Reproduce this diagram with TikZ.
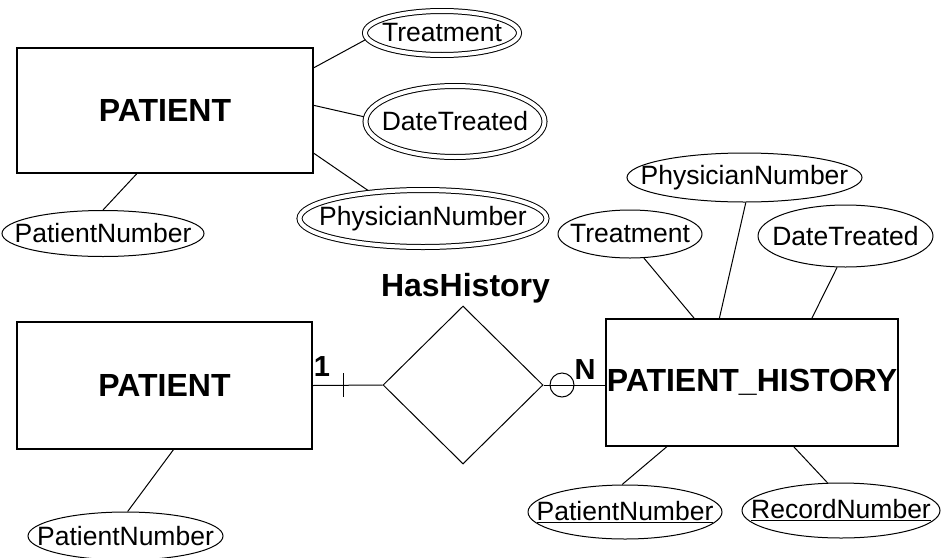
\documentclass[tikz,border=0pt]{standalone}
\usepackage{fontspec}
\setmainfont{Liberation Sans}
\usetikzlibrary{shapes.geometric}

\tikzstyle{entity} = [rectangle, draw=black, line width=1.2pt, inner sep=0pt, font=\fontsize{32}{38}\selectfont\bfseries]
% o texto fica numa caixa de largura zero para a elipse seguir minimum width
\tikzstyle{attr} = [ellipse, draw=black, line width=1pt, inner sep=0pt, font=\fontsize{26.5}{32}\selectfont,
  execute at begin node={\hbox to 0pt\bgroup\hss}, execute at end node={\hss\egroup}]
\tikzstyle{mattr} = [attr, double, double distance=4pt, outer sep=2.5pt]
\tikzstyle{rel} = [diamond, draw=black, line width=1pt, inner sep=0pt, minimum width=160pt, minimum height=158pt]
\tikzstyle{card} = [inner sep=0pt, font=\fontsize{29}{34}\selectfont\bfseries]
\tikzstyle{line} = [line width=1pt]

\begin{document}
\begin{tikzpicture}[x=1pt, y=-1pt]
\useasboundingbox (0,0) rectangle (941,557);

% entidade com atributos multivalorados
\node (patient) [entity, minimum width=296pt, minimum height=125pt] at (165,110.5) {PATIENT};
\node (ptreat) [mattr, minimum width=154pt, minimum height=44pt] at (442,33) {Treatment};
\node (pdate) [mattr, minimum width=179pt, minimum height=71pt] at (455,121.5) {DateTreated};
\node (pphys) [mattr, minimum width=247pt, minimum height=57pt] at (423,218.5) {PhysicianNumber};
\node (pnum) [attr, minimum width=202pt, minimum height=46pt] at (103,233.5) {PatientNumber};

\draw [line] (patient.16) -- (ptreat.185);
\draw [line] (patient.2) -- (pdate.177);
\draw [line] (patient.344) -- (pphys.153);
\draw [line] (patient.246) -- (pnum.90);

% entidades separadas e relacionamento
\node (patient2) [entity, minimum width=295pt, minimum height=127pt] at (164.5,385.5) {PATIENT};
\node (pnum2) [attr, minimum width=195pt, minimum height=48pt] at (125.5,536) {PatientNumber};
\node (has) [rel] at (463,385) {};
\node (haslabel) [card, font=\fontsize{32}{38}\selectfont\bfseries] at (465.5,288) {HasHistory};
\node (hist) [entity, minimum width=292pt, minimum height=127pt] at (752,382.5) {PATIENT\_HISTORY};

\node (htreat) [attr, minimum width=144pt, minimum height=48pt] at (630,234) {Treatment};
\node (hphys) [attr, minimum width=235pt, minimum height=49pt] at (744.5,177.5) {PhysicianNumber};
\node (hdate) [attr, minimum width=175pt, minimum height=62pt] at (845.5,236) {DateTreated};
\node (hpnum) [attr, minimum width=194pt, minimum height=54pt] at (625,512) {\underline{PatientNumber}};
\node (hrec) [attr, minimum width=198pt, minimum height=55pt] at (841,510.5) {\underline{RecordNumber}};

\draw [line] (patient2.278) -- (pnum2.85);
\draw [line] (hist.132) -- (htreat.300);
\draw [line] (hist.117) -- (hphys.273);
\draw [line] (hist.47) -- (hdate.255);
\draw [line] (hist.217) -- (hpnum.96);
\draw [line] (hist.303) -- (hrec.116);

% cardinalidades 1:N
\node (one) [card] at (322,367) {1};
\node (many) [card] at (585,370) {N};
\node (opt) [circle, draw=black, line width=1pt, minimum size=24pt, inner sep=0pt] at (562,385) {};
\coordinate (tick) at (343,385);

\draw [line] (patient2.east) -- (has.west);
\draw [line] (tick) ++(0,-12) -- ++(0,24);
\draw [line] (has.east) -- (has.east -| hist.west);
\end{tikzpicture}
\end{document}
